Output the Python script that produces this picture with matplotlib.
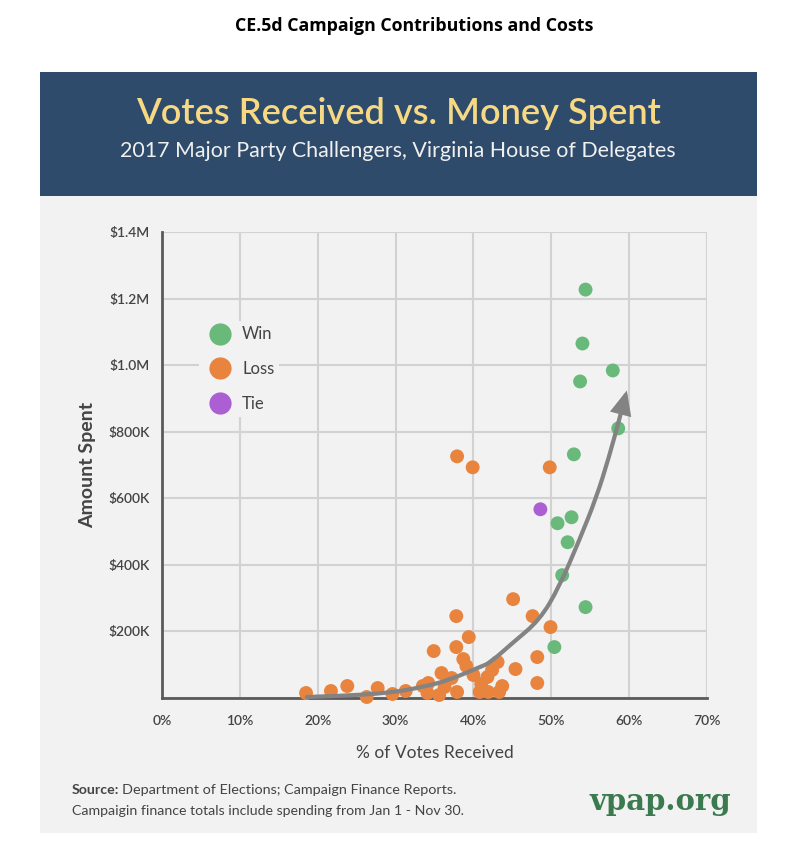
import matplotlib
matplotlib.use("Agg")
import matplotlib.pyplot as plt
from matplotlib.patches import Rectangle, FancyArrowPatch
from matplotlib.path import Path
from matplotlib.lines import Line2D
from matplotlib.ticker import FuncFormatter

# ---- data (x: % of votes received, y: amount spent in $K) ----
win_x = [54.4, 54.0, 53.7, 57.9, 58.6, 52.9, 50.8, 52.6, 52.1, 51.4, 54.4, 50.4]
win_y = [1227, 1065, 951, 984, 810, 732, 525, 543, 468, 369, 273, 153]

loss_x = [18.5, 21.7, 23.8, 26.3, 27.7, 29.6, 31.3, 33.5, 34.2, 34.1, 35.6, 36.3, 35.9,
          34.9, 37.2, 37.9, 37.8, 37.8, 38.7, 39.1, 39.4, 40.0, 40.8, 41.0, 41.8, 41.9,
          42.4, 43.1, 43.3, 43.7, 45.4, 45.1, 47.6, 48.2, 48.2, 49.9, 37.9, 39.9, 49.8]
loss_y = [15, 21, 36, 3, 30, 12, 21, 36, 45, 15, 9, 33, 75,
          141, 60, 18, 153, 246, 117, 96, 183, 69, 18, 42, 63, 18,
          84, 108, 18, 36, 87, 297, 246, 123, 45, 213, 726, 693, 693]

tie_x = [48.6]
tie_y = [567]

# trend arrow path
trend_x = [18.6, 22.8, 29.2, 33.5, 36.9, 40.8, 42.1, 45.0, 48.5, 51.0, 53.6, 55.8, 57.4, 58.7, 59.7]
trend_y = [3, 6, 15, 33, 54, 93, 105, 165, 234, 333, 474, 603, 723, 834, 924]

x_ticks = [0, 10, 20, 30, 40, 50, 60, 70]
y_ticks = [0, 200, 400, 600, 800, 1000, 1200, 1400]

GREEN = "#69b97a"
ORANGE = "#e8843e"
PURPLE = "#ac5fd3"
PANEL = "#f2f2f2"
HEADER = "#2e4b6c"
TXT = "#444444"

plt.rcParams['font.family'] = ['Lato', 'DejaVu Sans']

W, H = 800, 841
fig = plt.figure(figsize=(8, 8.41), dpi=100)
fig.patch.set_facecolor("white")

def fx(px):
    return px / W

def fy(py):
    return 1 - py / H

# panel + header band
fig.add_artist(Rectangle((fx(40), fy(833)), fx(757) - fx(40), fy(72) - fy(833),
                         transform=fig.transFigure, facecolor=PANEL, edgecolor="none", zorder=0))
fig.add_artist(Rectangle((fx(40), fy(196)), fx(757) - fx(40), fy(72) - fy(196),
                         transform=fig.transFigure, facecolor=HEADER, edgecolor="none", zorder=0))

fig.text(fx(414), fy(26), "CE.5d Campaign Contributions and Costs", ha="center", va="center",
         fontsize=12.8, fontweight="bold", family=["Open Sans", "DejaVu Sans"], color="black")
fig.text(fx(399), fy(114), "Votes Received vs. Money Spent", ha="center", va="center",
         fontsize=26, color="#f7d983", fontweight="semibold")
fig.text(fx(398), fy(151), "2017 Major Party Challengers, Virginia House of Delegates",
         ha="center", va="center", fontsize=15.4, color="#f0f0f0")

# axes
ax = fig.add_axes([fx(162), fy(698), fx(707) - fx(162), fy(232) - fy(698)])
ax.set_facecolor(PANEL)
ax.set_xlim(0, 70)
ax.set_ylim(0, 1400)
ax.set_xticks(x_ticks)
ax.set_yticks(y_ticks)
ax.xaxis.set_major_formatter(FuncFormatter(lambda v, p: f"{int(v)}%"))

def yfmt(v, p):
    if v == 0:
        return ""
    if v >= 1000:
        return f"${v/1000:.1f}M"
    return f"${int(v)}K"

ax.yaxis.set_major_formatter(FuncFormatter(yfmt))
ax.grid(True, color="#d2d2d2", linewidth=1.5, zorder=0)
ax.set_axisbelow(True)
for s in ["top", "right"]:
    ax.spines[s].set_visible(False)
for s in ["left", "bottom"]:
    ax.spines[s].set_color("#5a5a5a")
    ax.spines[s].set_linewidth(2)
ax.tick_params(length=0, colors=TXT, labelsize=10)
ax.tick_params(axis="x", pad=12)
ax.tick_params(axis="y", pad=9)
for lab in ax.get_xticklabels() + ax.get_yticklabels():
    lab.set_fontweight("semibold")

ax.set_xlabel("% of Votes Received", fontsize=12.5, color=TXT, labelpad=13)
ax.set_ylabel("Amount Spent", fontsize=14, color=TXT, fontweight="bold", labelpad=9)

ms = 100
ax.scatter(loss_x, loss_y, s=ms, color=ORANGE, edgecolors="none", zorder=3, clip_on=False)
ax.scatter(win_x, win_y, s=ms, color=GREEN, edgecolors="none", zorder=3, clip_on=False)
ax.scatter(tie_x, tie_y, s=ms, color=PURPLE, edgecolors="none", zorder=3, clip_on=False)

# smooth trend arrow: quadratic B-spline through the read points
pts = list(zip(trend_x, trend_y))
verts = [pts[0]]
codes = [Path.MOVETO]
for i in range(1, len(pts) - 1):
    mid = ((pts[i][0] + pts[i + 1][0]) / 2, (pts[i][1] + pts[i + 1][1]) / 2)
    if i == len(pts) - 2:
        mid = pts[i + 1]
    verts += [pts[i], mid]
    codes += [Path.CURVE3, Path.CURVE3]
arrow = FancyArrowPatch(path=Path(verts, codes), arrowstyle="-|>,head_length=0.9,head_width=0.4",
                        mutation_scale=14, color="#838383", lw=3, zorder=4,
                        shrinkA=0, shrinkB=0, joinstyle="miter",
                        transform=ax.transData, clip_on=False)
ax.add_patch(arrow)

handles = [Line2D([], [], marker="o", linestyle="none", markersize=16, color=c,
                  markeredgecolor="none") for c in (GREEN, ORANGE, PURPLE)]
leg = ax.legend(handles, ["Win", "Loss", "Tie"], loc="upper left",
                bbox_to_anchor=(0.052, 0.826), frameon=True, facecolor=PANEL,
                edgecolor="none", framealpha=1, fontsize=12, labelspacing=1.12,
                handletextpad=0.3, borderpad=0.3)
for t in leg.get_texts():
    t.set_color(TXT)

# footer
fig.text(fx(72), fy(790), "Source:", fontsize=10.2, fontweight="bold", color=TXT,
         ha="left", va="center")
fig.text(fx(122), fy(790), "Department of Elections; Campaign Finance Reports.",
         fontsize=10.4, color=TXT, ha="left", va="center")
fig.text(fx(72), fy(811), "Campaigin finance totals include spending from Jan 1 - Nov 30.",
         fontsize=10.2, color=TXT, ha="left", va="center")
fig.text(fx(731), fy(801), "vpap.org", fontsize=21, fontweight="bold", color="#3b7a4f",
         family=["DejaVu Serif"], ha="right", va="center")

fig.savefig("out.png", dpi=100)
